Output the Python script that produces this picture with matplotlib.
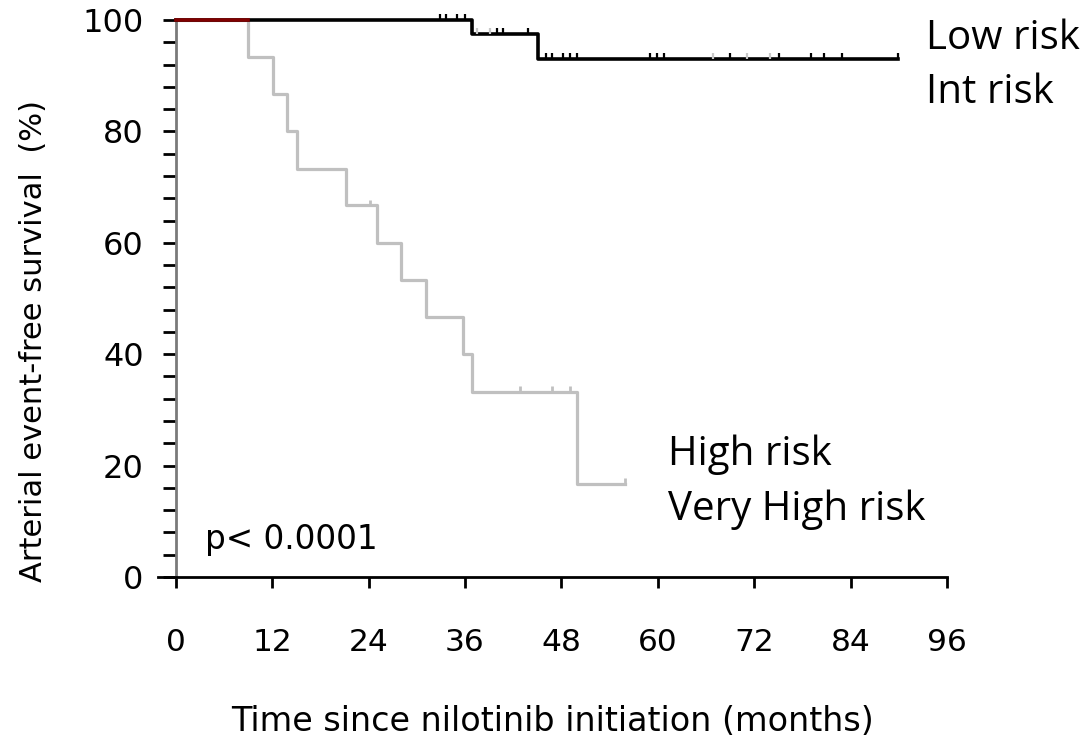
import matplotlib
matplotlib.use("Agg")
import matplotlib.pyplot as plt
from matplotlib.ticker import MultipleLocator

# Low risk curve (black): step times and survival after each step
low_t = [0, 36.9, 45.1, 89.9]
low_s = [100, 97.5, 93.0, 93.0]
# censor marks on the black curve
low_cens_t = [32.9, 33.7, 35.0, 36.0,
              40.0, 40.7, 43.8,
              46.1, 46.8, 48.2, 49.1, 49.9, 59.0, 59.9, 60.8, 69.0,
              75.1, 79.1, 80.7, 82.9, 89.9]
low_cens_s = [100, 100, 100, 100,
              97.5, 97.5, 97.5,
              93.0, 93.0, 93.0, 93.0, 93.0, 93.0, 93.0, 93.0, 93.0,
              93.0, 93.0, 93.0, 93.0, 93.0]
# faint censor marks (int risk, overlapping)
int_cens_t = [37.5, 39.1, 66.9, 71.1, 74.0]
int_cens_s = [97.5, 97.5, 93.0, 93.0, 93.0]

# High risk curve (grey)
high_t = [0, 9.0, 12.1, 13.8, 15.1, 21.2, 25.0, 28.1, 31.2, 35.7, 36.9, 49.9, 55.9]
high_s = [100, 93.3, 86.7, 80.0, 73.3, 66.7, 60.0, 53.3, 46.7, 40.0, 33.3, 16.7, 16.7]
high_cens_t = [24.2, 42.8, 46.8, 49.1, 55.9]
high_cens_s = [66.7, 33.3, 33.3, 33.3, 16.7]

# Very high risk (dark red), ends early
vhigh_t = [0, 9.0]
vhigh_s = [100, 100]

fig = plt.figure(figsize=(10.87, 7.41), dpi=100)
ax = fig.add_axes([158 / 1087, 164 / 741, 789 / 1087, 557 / 741])

ax.step(high_t, high_s, where='post', color='#c0c0c0', lw=2.3, clip_on=False)
ax.vlines(high_cens_t, high_cens_s, [s + 1.0 for s in high_cens_s],
          color='#c0c0c0', lw=2.0, clip_on=False)
ax.step(low_t, low_s, where='post', color='black', lw=2.6, clip_on=False, zorder=3)
ax.vlines(low_cens_t, low_cens_s, [s + 1.0 for s in low_cens_s],
          color='black', lw=1.6, clip_on=False, zorder=3)
ax.vlines(int_cens_t, int_cens_s, [s + 1.0 for s in int_cens_s],
          color='#c8c8c8', lw=1.6, clip_on=False, zorder=3)
ax.step(vhigh_t, vhigh_s, where='post', color='#800000', lw=2.6, clip_on=False, zorder=4)

ax.set_xlim(-2.2, 96)
ax.set_ylim(0, 100)
ax.spines['top'].set_visible(False)
ax.spines['right'].set_visible(False)
ax.spines['left'].set_position(('data', 0))
ax.spines['left'].set_color('#7a7a7a')
ax.spines['left'].set_linewidth(2.0)
ax.spines['bottom'].set_linewidth(2.0)

ax.set_xticks(range(0, 97, 12))
ax.yaxis.set_major_locator(MultipleLocator(20))
ax.yaxis.set_minor_locator(MultipleLocator(4))
ax.tick_params(axis='x', length=8, width=2, pad=29, labelsize=22.5)
ax.tick_params(axis='y', which='both', length=9.5, width=2, pad=13.5, labelsize=23)

ax.set_xlabel('Time since nilotinib initiation (months)', fontsize=24, labelpad=34)
ax.set_ylabel('Arterial event-free survival  (%)', fontsize=22)
ax.yaxis.set_label_coords(-0.139, 0.424)

ax.text(3.6, 5.0, 'p< 0.0001', fontsize=23.5, ha='left', va='baseline')

for txt, x, y in [('Low risk', 926, 49), ('Int risk', 926, 103),
                  ('High risk', 668, 465), ('Very High risk', 668, 520)]:
    fig.text(x / 1087, 1 - y / 741, txt, fontsize=29, family='Open Sans',
             ha='left', va='baseline')

fig.savefig('out.png', dpi=100)
